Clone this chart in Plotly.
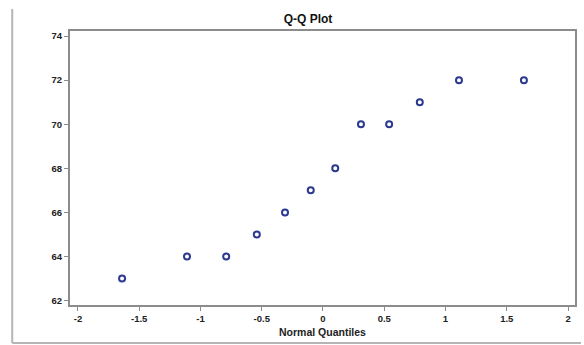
import plotly.graph_objects as go

# Normal quantiles (Blom) for 12 observations and the sorted sample values
normal_quantiles = [-1.64, -1.11, -0.79, -0.54, -0.31, -0.10, 0.10, 0.31, 0.54, 0.79, 1.11, 1.64]
sample_values = [63, 64, 64, 65, 66, 67, 68, 70, 70, 71, 72, 72]

x_ticks = [-2, -1.5, -1, -0.5, 0, 0.5, 1, 1.5, 2]
x_tick_labels = ["-2", "-1.5", "-1", "-0.5", "0", "0.5", "1", "1.5", "2"]
y_ticks = [62, 64, 66, 68, 70, 72, 74]

W, H = 584, 345
L, R, T, B = 70, 7, 31, 40
plot_w = W - L - R
plot_h = H - T - B

fig = go.Figure()
fig.add_trace(go.Scatter(
    x=normal_quantiles,
    y=sample_values,
    mode="markers",
    marker=dict(symbol="circle-open", size=6, color="#2b3990",
                line=dict(width=2, color="#2b3990")),
    showlegend=False,
))

tick_font = dict(family="Liberation Sans, Arial, sans-serif", size=9.5,
                 color="#222222", weight="bold")
label_font = dict(family="Liberation Sans, Arial, sans-serif", size=10.5,
                  color="#222222", weight="bold")
fig.update_xaxes(
    range=[-2.065, 2.057], tickvals=x_ticks, ticktext=x_tick_labels,
    showgrid=False, zeroline=False, showline=True, linecolor="#8c8c8c", linewidth=2,
    mirror=True, ticks="outside", ticklen=4, tickcolor="#8c8c8c", tickwidth=1,
    tickfont=tick_font,
    title=dict(text="Normal Quantiles", font=label_font, standoff=5),
)
fig.update_yaxes(
    range=[61.8, 74.23], tickvals=y_ticks,
    showgrid=False, zeroline=False, showline=True, linecolor="#8c8c8c", linewidth=2,
    mirror=True, ticks="outside", ticklen=4, tickcolor="#8c8c8c", tickwidth=1,
    tickfont=tick_font,
)

# Outer frame lines on the left and bottom edges of the graphic
frame_color = "#b5b5b5"
x_left = (12 - L) / plot_w
y_top = (H - B - 9) / plot_h
y_bottom = (H - B - 343) / plot_h
x_right = (583 - L) / plot_w
fig.add_shape(type="line", xref="paper", yref="paper", x0=x_left, x1=x_left,
              y0=y_bottom, y1=y_top, line=dict(color=frame_color, width=2))
fig.add_shape(type="line", xref="paper", yref="paper", x0=x_left, x1=x_right,
              y0=y_bottom, y1=y_bottom, line=dict(color=frame_color, width=2))

fig.update_layout(
    width=W, height=H,
    margin=dict(l=L, r=R, t=T, b=B),
    paper_bgcolor="white", plot_bgcolor="white",
    title=dict(text="Q-Q Plot", x=308 / W, xanchor="center",
               y=1 - 19 / H, yanchor="middle",
               font=dict(family="Liberation Sans, Arial, sans-serif", size=12,
                         color="#111111", weight="bold")),
)

fig.write_html("out.html")
